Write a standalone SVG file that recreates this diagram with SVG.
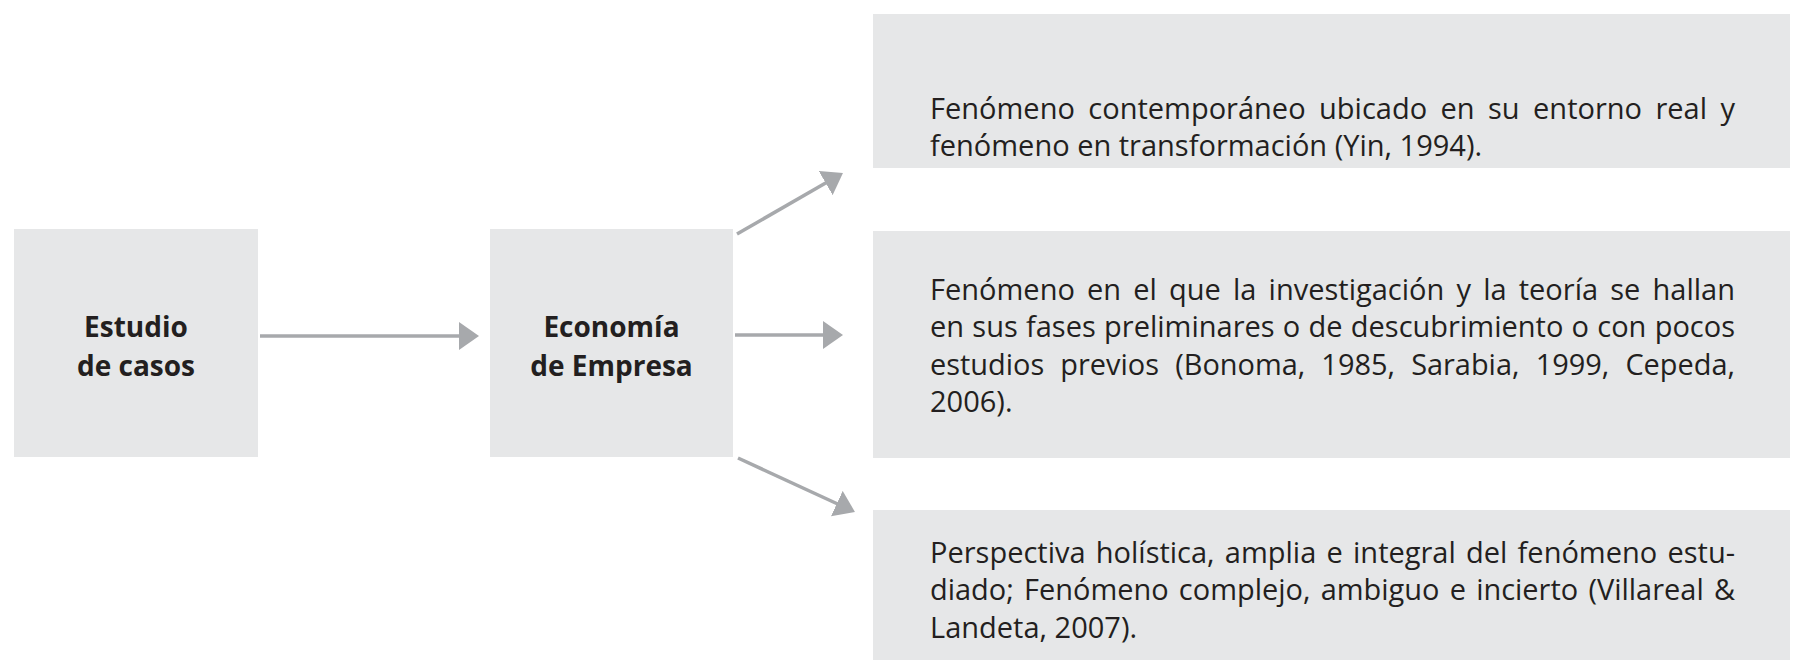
<svg xmlns="http://www.w3.org/2000/svg" width="1797" height="660" viewBox="0 0 1797 660">
  <style>
    .box { fill: #e6e7e8; }
    .lbl { font-family: "Open Sans", "Noto Sans", sans-serif; font-weight: bold; font-size: 28px; fill: #231f20; text-anchor: middle; }
    .txt { font-family: "Open Sans", "Noto Sans", sans-serif; font-size: 29px; fill: #231f20; }
    .arr { stroke: #a7a9ac; stroke-width: 3.5; fill: none; marker-end: url(#head); }
  </style>
  <defs>
    <marker id="head" viewBox="0 0 20 28" markerWidth="20" markerHeight="28" markerUnits="userSpaceOnUse" refX="1" refY="14" orient="auto">
      <path d="M0,0 L20,14 L0,28 Z" fill="#a7a9ac"/>
    </marker>
  </defs>
  <rect width="1797" height="660" fill="#ffffff"/>

  <g id="node-estudio">
    <rect class="box" x="14" y="229" width="244" height="228"/>
    <text class="lbl" x="136" y="337">Estudio</text>
    <text class="lbl" x="136" y="376">de casos</text>
  </g>

  <g id="node-economia">
    <rect class="box" x="490" y="229" width="243" height="228"/>
    <text class="lbl" x="611.5" y="337">Economía</text>
    <text class="lbl" x="611.5" y="376">de Empresa</text>
  </g>

  <g id="node-fenomeno1">
    <rect class="box" x="873" y="14" width="917" height="154"/>
    <text class="txt" x="930" y="119" textLength="805" lengthAdjust="spacingAndGlyphs" word-spacing="5.9">Fenómeno contemporáneo ubicado en su entorno real y</text>
    <text class="txt" x="930" y="156">fenómeno en transformación (Yin, 1994).</text>
  </g>

  <g id="node-fenomeno2">
    <rect class="box" x="873" y="231" width="917" height="227"/>
    <text class="txt" x="930" y="300" textLength="805" lengthAdjust="spacingAndGlyphs" word-spacing="4.6">Fenómeno en el que la investigación y la teoría se hallan</text>
    <text class="txt" x="930" y="337" textLength="805" lengthAdjust="spacingAndGlyphs" word-spacing="0.7">en sus fases preliminares o de descubrimiento o con pocos</text>
    <text class="txt" x="930" y="375" textLength="805" lengthAdjust="spacingAndGlyphs" word-spacing="8.7">estudios previos (Bonoma, 1985, Sarabia, 1999, Cepeda,</text>
    <text class="txt" x="930" y="412">2006).</text>
  </g>

  <g id="node-fenomeno3">
    <rect class="box" x="873" y="510" width="917" height="150"/>
    <text class="txt" x="930" y="563" textLength="805" lengthAdjust="spacingAndGlyphs" word-spacing="2.7">Perspectiva holística, amplia e integral del fenómeno estu-</text>
    <text class="txt" x="930" y="600" textLength="805" lengthAdjust="spacingAndGlyphs" word-spacing="2.7">diado; Fenómeno complejo, ambiguo e incierto (Villareal &amp;</text>
    <text class="txt" x="930" y="638">Landeta, 2007).</text>
  </g>

  <g id="connectors">
    <line class="arr" x1="260" y1="336" x2="460" y2="336"/>
    <line class="arr" x1="735" y1="335" x2="824" y2="335"/>
    <line class="arr" x1="737" y1="234" x2="826.5" y2="182.5"/>
    <line class="arr" x1="738" y1="458" x2="837.7" y2="504"/>
  </g>
</svg>
